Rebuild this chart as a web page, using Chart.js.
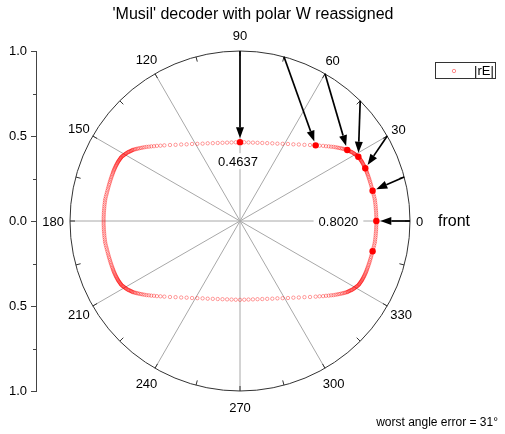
<!DOCTYPE html>
<html>
<head>
<meta charset="utf-8">
<script src="https://cdn.jsdelivr.net/npm/chart.js@4.4.1/dist/chart.umd.min.js"></script>
<style>
  html, body { margin: 0; padding: 0; background: #fff; }
  .wrap { width: 505px; height: 434px; }
</style>
</head>
<body>
<div class="wrap"><canvas id="polarChart"></canvas></div>
<script>
// ─── data ───
const titleText = "'Musil' decoder with polar W reassigned";
const angleTicks = [0, 30, 60, 90, 120, 150, 180, 210, 240, 270, 300, 330];
const minorAngles = [15, 45, 75, 105, 135, 165, 195, 225, 255, 285, 315, 345];
const yMinor = [-0.75, -0.25, 0.25, 0.75];

// |rE| curve, x / y components (one marker per source direction)
const rEx = [
  // 0..90
  0.802, 0.802, 0.802, 0.801, 0.801, 0.800, 0.799, 0.798, 0.797, 0.795,
  0.794, 0.792, 0.789, 0.786, 0.783, 0.780, 0.777, 0.774, 0.771, 0.768,
  0.765, 0.762, 0.759, 0.756, 0.753, 0.750, 0.747, 0.745, 0.742, 0.739,
  0.737, 0.734, 0.731, 0.729, 0.726, 0.723, 0.721, 0.718, 0.715, 0.713,
  0.710, 0.707, 0.704, 0.702, 0.699, 0.696, 0.692, 0.688, 0.684, 0.680,
  0.676, 0.672, 0.668, 0.663, 0.658, 0.654, 0.649, 0.644, 0.640, 0.635,
  0.631, 0.624, 0.617, 0.609, 0.601, 0.592, 0.582, 0.572, 0.561, 0.549,
  0.536, 0.522, 0.506, 0.489, 0.468, 0.445, 0.412, 0.379, 0.346, 0.314,
  0.282, 0.251, 0.220, 0.190, 0.160, 0.131, 0.103, 0.076, 0.050, 0.025,
  0,
  // 91..179
  -0.802, -0.802, -0.801, -0.801, -0.800, -0.799, -0.798, -0.797, -0.795,
  -0.794, -0.792, -0.789, -0.786, -0.783, -0.780, -0.777, -0.774, -0.771, -0.768,
  -0.765, -0.762, -0.759, -0.756, -0.753, -0.750, -0.747, -0.745, -0.742, -0.739,
  -0.737, -0.734, -0.731, -0.729, -0.726, -0.723, -0.721, -0.718, -0.715, -0.713,
  -0.710, -0.707, -0.704, -0.702, -0.699, -0.696, -0.692, -0.688, -0.684, -0.680,
  -0.676, -0.672, -0.668, -0.663, -0.658, -0.654, -0.649, -0.644, -0.640, -0.635,
  -0.631, -0.624, -0.617, -0.609, -0.601, -0.592, -0.582, -0.572, -0.561, -0.549,
  -0.536, -0.522, -0.506, -0.489, -0.468, -0.445, -0.412, -0.379, -0.346, -0.314,
  -0.282, -0.251, -0.220, -0.190, -0.160, -0.131, -0.103, -0.076, -0.050, -0.025,
  // 180..270
  -0.802, -0.802, -0.802, -0.801, -0.801, -0.800, -0.799, -0.798, -0.797, -0.795,
  -0.794, -0.792, -0.789, -0.786, -0.783, -0.780, -0.777, -0.774, -0.771, -0.768,
  -0.765, -0.762, -0.759, -0.756, -0.753, -0.750, -0.747, -0.745, -0.742, -0.739,
  -0.737, -0.734, -0.731, -0.729, -0.726, -0.723, -0.721, -0.718, -0.715, -0.713,
  -0.710, -0.707, -0.704, -0.702, -0.699, -0.696, -0.692, -0.688, -0.684, -0.680,
  -0.676, -0.672, -0.668, -0.663, -0.658, -0.654, -0.649, -0.644, -0.640, -0.635,
  -0.631, -0.624, -0.617, -0.609, -0.601, -0.592, -0.582, -0.572, -0.561, -0.549,
  -0.536, -0.522, -0.506, -0.489, -0.468, -0.445, -0.412, -0.379, -0.346, -0.314,
  -0.282, -0.251, -0.220, -0.190, -0.160, -0.131, -0.103, -0.076, -0.050, -0.025,
  0,
  // 271..359
  0.802, 0.802, 0.801, 0.801, 0.800, 0.799, 0.798, 0.797, 0.795,
  0.794, 0.792, 0.789, 0.786, 0.783, 0.780, 0.777, 0.774, 0.771, 0.768,
  0.765, 0.762, 0.759, 0.756, 0.753, 0.750, 0.747, 0.745, 0.742, 0.739,
  0.737, 0.734, 0.731, 0.729, 0.726, 0.723, 0.721, 0.718, 0.715, 0.713,
  0.710, 0.707, 0.704, 0.702, 0.699, 0.696, 0.692, 0.688, 0.684, 0.680,
  0.676, 0.672, 0.668, 0.663, 0.658, 0.654, 0.649, 0.644, 0.640, 0.635,
  0.631, 0.624, 0.617, 0.609, 0.601, 0.592, 0.582, 0.572, 0.561, 0.549,
  0.536, 0.522, 0.506, 0.489, 0.468, 0.445, 0.412, 0.379, 0.346, 0.314,
  0.282, 0.251, 0.220, 0.190, 0.160, 0.131, 0.103, 0.076, 0.050, 0.025
];
const rEy = [
  // 0..90
  0, 0.012, 0.024, 0.036, 0.048, 0.060, 0.072, 0.084, 0.096, 0.108,
  0.120, 0.131, 0.143, 0.155, 0.166, 0.178, 0.189, 0.200, 0.211, 0.221,
  0.231, 0.241, 0.250, 0.259, 0.268, 0.276, 0.284, 0.291, 0.298, 0.304,
  0.310, 0.316, 0.322, 0.327, 0.332, 0.337, 0.342, 0.347, 0.351, 0.355,
  0.359, 0.363, 0.367, 0.371, 0.374, 0.378, 0.381, 0.384, 0.387, 0.390,
  0.393, 0.396, 0.399, 0.402, 0.405, 0.407, 0.409, 0.411, 0.413, 0.416,
  0.418, 0.420, 0.422, 0.424, 0.426, 0.428, 0.430, 0.432, 0.434, 0.436,
  0.437, 0.439, 0.440, 0.442, 0.443, 0.445, 0.447, 0.448, 0.450, 0.451,
  0.453, 0.454, 0.455, 0.457, 0.458, 0.459, 0.460, 0.461, 0.462, 0.463,
  0.4637,
  // 91..179
  0.012, 0.024, 0.036, 0.048, 0.060, 0.072, 0.084, 0.096, 0.108,
  0.120, 0.131, 0.143, 0.155, 0.166, 0.178, 0.189, 0.200, 0.211, 0.221,
  0.231, 0.241, 0.250, 0.259, 0.268, 0.276, 0.284, 0.291, 0.298, 0.304,
  0.310, 0.316, 0.322, 0.327, 0.332, 0.337, 0.342, 0.347, 0.351, 0.355,
  0.359, 0.363, 0.367, 0.371, 0.374, 0.378, 0.381, 0.384, 0.387, 0.390,
  0.393, 0.396, 0.399, 0.402, 0.405, 0.407, 0.409, 0.411, 0.413, 0.416,
  0.418, 0.420, 0.422, 0.424, 0.426, 0.428, 0.430, 0.432, 0.434, 0.436,
  0.437, 0.439, 0.440, 0.442, 0.443, 0.445, 0.447, 0.448, 0.450, 0.451,
  0.453, 0.454, 0.455, 0.457, 0.458, 0.459, 0.460, 0.461, 0.462, 0.463,
  // 180..270
  0, -0.012, -0.024, -0.036, -0.048, -0.060, -0.072, -0.084, -0.096, -0.108,
  -0.120, -0.131, -0.143, -0.155, -0.166, -0.178, -0.189, -0.200, -0.211, -0.221,
  -0.231, -0.241, -0.250, -0.259, -0.268, -0.276, -0.284, -0.291, -0.298, -0.304,
  -0.310, -0.316, -0.322, -0.327, -0.332, -0.337, -0.342, -0.347, -0.351, -0.355,
  -0.359, -0.363, -0.367, -0.371, -0.374, -0.378, -0.381, -0.384, -0.387, -0.390,
  -0.393, -0.396, -0.399, -0.402, -0.405, -0.407, -0.409, -0.411, -0.413, -0.416,
  -0.418, -0.420, -0.422, -0.424, -0.426, -0.428, -0.430, -0.432, -0.434, -0.436,
  -0.437, -0.439, -0.440, -0.442, -0.443, -0.445, -0.447, -0.448, -0.450, -0.451,
  -0.453, -0.454, -0.455, -0.457, -0.458, -0.459, -0.460, -0.461, -0.462, -0.463,
  -0.4637,
  // 271..359
  -0.012, -0.024, -0.036, -0.048, -0.060, -0.072, -0.084, -0.096, -0.108,
  -0.120, -0.131, -0.143, -0.155, -0.166, -0.178, -0.189, -0.200, -0.211, -0.221,
  -0.231, -0.241, -0.250, -0.259, -0.268, -0.276, -0.284, -0.291, -0.298, -0.304,
  -0.310, -0.316, -0.322, -0.327, -0.332, -0.337, -0.342, -0.347, -0.351, -0.355,
  -0.359, -0.363, -0.367, -0.371, -0.374, -0.378, -0.381, -0.384, -0.387, -0.390,
  -0.393, -0.396, -0.399, -0.402, -0.405, -0.407, -0.409, -0.411, -0.413, -0.416,
  -0.418, -0.420, -0.422, -0.424, -0.426, -0.428, -0.430, -0.432, -0.434, -0.436,
  -0.437, -0.439, -0.440, -0.442, -0.443, -0.445, -0.447, -0.448, -0.450, -0.451,
  -0.453, -0.454, -0.455, -0.457, -0.458, -0.459, -0.460, -0.461, -0.462, -0.463
];

// source directions with arrows, and their rE end points (last dot has no arrow)
const srcDeg = [0, 15, 30, 45, 60, 75, 90];
const dotX = [0.802, 0.780, 0.737, 0.696, 0.631, 0.445, 0, 0.780];
const dotY = [0, 0.178, 0.310, 0.378, 0.418, 0.445, 0.4637, -0.178];
const worstErr = 31;

// ─── drawing helpers ───
const FONT = '"Liberation Sans", Arial, sans-serif';
Chart.defaults.font.family = FONT;
const rad = d => d * Math.PI / 180;
const curveColor = 'rgba(255,0,0,0.55)';

const polarGrid = {
  id: 'polarGrid',
  beforeDatasetsDraw(chart) {
    const { ctx, scales: { x, y } } = chart;
    const cx = x.getPixelForValue(0), cy = y.getPixelForValue(0);
    const R = x.getPixelForValue(1) - cx;
    ctx.save();
    // spokes
    ctx.strokeStyle = '#a8a8a8'; ctx.lineWidth = 1;
    angleTicks.forEach(a => {
      ctx.beginPath();
      ctx.moveTo(cx, cy);
      ctx.lineTo(cx + R * Math.cos(rad(a)), cy - R * Math.sin(rad(a)));
      ctx.stroke();
    });
    // outer ring + ticks
    ctx.strokeStyle = '#333';
    ctx.beginPath(); ctx.arc(cx, cy, R, 0, 2 * Math.PI); ctx.stroke();
    [...angleTicks, ...minorAngles].forEach(a => {
      const c = Math.cos(rad(a)), s = Math.sin(rad(a));
      ctx.beginPath();
      ctx.moveTo(cx + R * c, cy - R * s);
      ctx.lineTo(cx + (R - 5) * c, cy - (R - 5) * s);
      ctx.stroke();
    });
    // angle labels
    ctx.fillStyle = '#000'; ctx.font = '13px ' + FONT;
    ctx.textAlign = 'center'; ctx.textBaseline = 'middle';
    angleTicks.forEach(a => {
      const lbl = String(a);
      const w = ctx.measureText(lbl).width;
      const c = Math.cos(rad(a)), s = Math.sin(rad(a));
      const d = R + 6 + Math.abs(c) * w / 2 + Math.pow(s, 4) * 10;
      ctx.fillText(lbl, cx + d * c, cy - d * s + 1);
    });
    // value labels on white boxes
    const boxed = (txt, tx, ty) => {
      const w = ctx.measureText(txt).width;
      ctx.fillStyle = '#fff';
      ctx.fillRect(tx - w / 2 - 5, ty - 8, w + 10, 16);
      ctx.fillStyle = '#000';
      ctx.fillText(txt, tx, ty + 1);
    };
    const topTxt = dotY[6].toFixed(4), frontTxt = dotX[0].toFixed(4);
    boxed(topTxt, x.getPixelForValue(dotX[6]) - 2, y.getPixelForValue(dotY[6]) + 19);
    const fw = ctx.measureText(frontTxt).width;
    boxed(frontTxt, x.getPixelForValue(dotX[0]) - 18 - fw / 2, cy);
    ctx.restore();
  },
  afterDatasetsDraw(chart) {
    const { ctx, scales: { x, y } } = chart;
    const cx = x.getPixelForValue(0), cy = y.getPixelForValue(0);
    const R = x.getPixelForValue(1) - cx;
    ctx.save();
    // arrows from source direction to rE
    ctx.strokeStyle = '#000'; ctx.fillStyle = '#000'; ctx.lineWidth = 1.7;
    srcDeg.forEach((a, i) => {
      const x0 = x.getPixelForValue(Math.cos(rad(a))), y0 = y.getPixelForValue(Math.sin(rad(a)));
      const x1 = x.getPixelForValue(dotX[i]), y1 = y.getPixelForValue(dotY[i]);
      const ang = Math.atan2(y1 - y0, x1 - x0);
      const c = Math.cos(ang), s = Math.sin(ang);
      const tx = x1 - 4 * c, ty = y1 - 4 * s;
      const bx = tx - 11 * c, by = ty - 11 * s;
      ctx.beginPath(); ctx.moveTo(x0, y0); ctx.lineTo(bx, by); ctx.stroke();
      ctx.beginPath();
      ctx.moveTo(tx, ty);
      ctx.lineTo(bx - 4 * s, by + 4 * c);
      ctx.lineTo(bx + 4 * s, by - 4 * c);
      ctx.closePath(); ctx.fill();
    });
    // minor ticks on left axis
    ctx.strokeStyle = '#444'; ctx.lineWidth = 1;
    const ax = chart.chartArea.left;
    yMinor.forEach(v => {
      const py = Math.round(y.getPixelForValue(v)) + 0.5;
      ctx.beginPath(); ctx.moveTo(ax - 3, py); ctx.lineTo(ax, py); ctx.stroke();
    });
    // title
    ctx.fillStyle = '#000'; ctx.textBaseline = 'middle';
    ctx.font = '16px ' + FONT; ctx.textAlign = 'center';
    ctx.fillText(titleText, 253, 15);
    // "front"
    ctx.textAlign = 'left';
    ctx.fillText('front', cx + R + 28, cy + 1);
    // legend
    ctx.strokeStyle = '#333';
    ctx.strokeRect(435.5, 62.5, 60, 16);
    ctx.strokeStyle = curveColor; ctx.lineWidth = 0.8;
    ctx.beginPath(); ctx.arc(454, 71, 1.7, 0, 2 * Math.PI); ctx.stroke();
    ctx.font = '13px ' + FONT; ctx.fillStyle = '#000';
    ctx.fillText(chart.data.datasets[0].label, 474, 71);
    // worst error note
    ctx.font = '12px ' + FONT; ctx.textAlign = 'right';
    ctx.fillText('worst angle error = ' + worstErr + '\u00B0', 498, 423);
    ctx.restore();
  }
};

new Chart(document.getElementById('polarChart'), {
  type: 'scatter',
  data: {
    datasets: [
      {
        label: '|rE|',
        data: rEx.map((v, i) => ({ x: v, y: rEy[i] })),
        pointRadius: 1.7, pointBorderWidth: 0.7,
        pointBorderColor: curveColor, pointBackgroundColor: 'rgba(0,0,0,0)'
      },
      {
        label: 'decoded',
        data: dotX.map((v, i) => ({ x: v, y: dotY[i] })),
        pointRadius: 3.2, pointBorderWidth: 0,
        pointBorderColor: '#ff0000', pointBackgroundColor: '#ff0000'
      }
    ]
  },
  options: {
    responsive: true, maintainAspectRatio: false, animation: false, events: [],
    layout: { padding: { top: 51, bottom: 43, left: 0, right: 10 } },
    plugins: { legend: { display: false }, tooltip: { enabled: false } },
    scales: {
      x: { type: 'linear', display: false, min: -1.2, max: 1.5 },
      y: {
        min: -1, max: 1,
        afterFit: s => { s.width = 36; },
        ticks: { stepSize: 0.5, color: '#000', font: { size: 13 }, padding: 4,
                 callback: v => Math.abs(v).toFixed(1) },
        grid: { drawOnChartArea: false, tickLength: 5, color: '#444' },
        border: { color: '#444' }
      }
    }
  },
  plugins: [polarGrid]
});
</script>
</body>
</html>
